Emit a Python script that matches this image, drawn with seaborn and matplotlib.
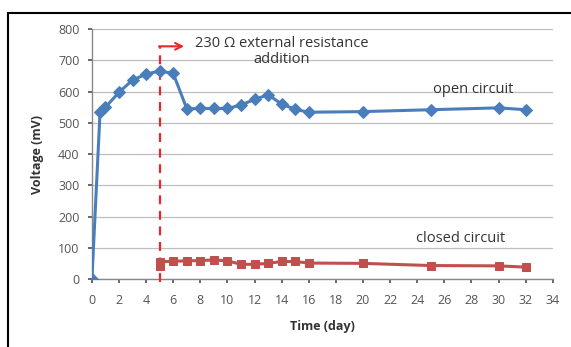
import matplotlib
matplotlib.use("Agg")
import matplotlib.pyplot as plt
import seaborn as sns
import pandas as pd

open_days = [0, 0.6, 1, 2, 3, 4, 5, 6, 7, 8, 9, 10, 11, 12, 13, 14, 15, 16, 20, 25, 30, 32]
open_mv = [0, 535, 550, 598, 637, 656, 666, 658, 545, 546, 546, 546, 557, 575, 590, 560, 543, 534, 536, 542, 548, 542]

closed_days = [5, 5, 6, 7, 8, 9, 10, 11, 12, 13, 14, 15, 16, 20, 25, 30, 32]
closed_mv = [40, 55, 57, 58, 59, 61, 58, 47, 47, 50, 56, 56, 51, 50, 43, 42, 38]

x_ticks = list(range(0, 35, 2))
y_ticks = list(range(0, 801, 100))

sns.set_theme(style="white")
plt.rcParams['font.family'] = ['Open Sans', 'DejaVu Sans']

fig = plt.figure(figsize=(5.71, 3.47), dpi=100)
ax = fig.add_axes([0.161, 0.196, 0.807, 0.72])

df_open = pd.DataFrame({"day": open_days, "mv": open_mv})
df_closed = pd.DataFrame({"day": closed_days, "mv": closed_mv})

blue = "#4A7EBB"
red = "#C0504D"

sns.lineplot(data=df_open, x="day", y="mv", ax=ax, color=blue, marker="D",
             markersize=6, markeredgecolor=blue, linewidth=2.2,
             estimator=None, sort=False, zorder=4)
sns.lineplot(data=df_closed, x="day", y="mv", ax=ax, color=red, marker="s",
             markersize=6, markeredgecolor=red, linewidth=2.2,
             estimator=None, sort=False, zorder=4)

ax.set_xlim(0, 34)
ax.set_ylim(0, 800)
ax.set_xticks(x_ticks)
ax.set_yticks(y_ticks)
ax.tick_params(axis="both", labelsize=9, colors="#555555", length=3,
               direction="out", bottom=True, left=True)
ax.tick_params(axis="x", pad=8)
ax.tick_params(axis="y", pad=6)
for lab in ax.get_xticklabels() + ax.get_yticklabels():
    lab.set_color("#555555")

ax.grid(axis="y", color="#BEBEBE", linewidth=0.9)
ax.grid(axis="x", visible=False)
for s in ["top", "right"]:
    ax.spines[s].set_visible(False)
for s in ["left", "bottom"]:
    ax.spines[s].set_color("#888888")
    ax.spines[s].set_linewidth(1.0)

ax.set_xlabel("Time (day)", fontsize=9, fontweight="bold", color="#333333", labelpad=9)
ax.set_ylabel("Voltage (mV)", fontsize=9, fontweight="bold", color="#333333", labelpad=10)

# vertical dashed red line at day 5
ax.plot([5, 5], [-10, 745], color="#E8262B", linestyle=(0, (4, 3)),
        linewidth=1.6, zorder=3, clip_on=False)
ax.annotate("", xy=(6.8, 745), xytext=(4.95, 745),
            arrowprops=dict(arrowstyle="->", color="#E8262B", lw=1.5,
                            shrinkA=0, shrinkB=0))
ax.text(14.0, 778, "230 Ω external resistance\naddition", ha="center", va="top",
        fontsize=10.5, color="#333333", linespacing=1.05)
ax.text(28.1, 608, "open circuit", ha="center", va="center", fontsize=10.5, color="#333333")
ax.text(27.2, 131, "closed circuit", ha="center", va="center", fontsize=10.5, color="#333333")

if ax.legend_:
    ax.legend_.remove()

# frame lines (left and top) of the figure
fig.add_artist(plt.Line2D([8/571, 8/571], [0, 1 - 13/347], color="black", linewidth=1.5,
                          transform=fig.transFigure))
fig.add_artist(plt.Line2D([8/571, 1], [1 - 13/347, 1 - 13/347], color="black", linewidth=1.5,
                          transform=fig.transFigure))

fig.savefig("out.png", dpi=100)
